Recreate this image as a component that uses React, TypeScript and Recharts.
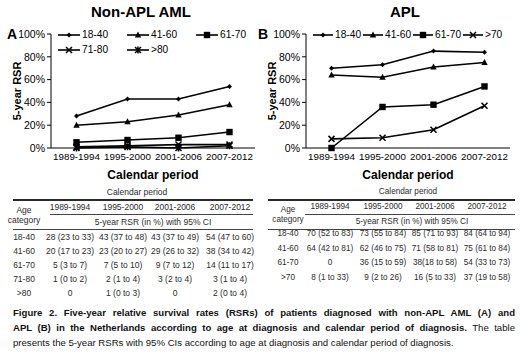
import { LineChart, Line, XAxis, YAxis, Legend } from 'recharts';

const FONT = '"Liberation Sans", Arial, sans-serif';

const periods = ['1989-1994', '1995-2000', '2001-2006', '2007-2012'];

// Non-APL AML, 5-year RSR (%)
const aml18to40 = [28, 43, 43, 54];
const aml41to60 = [20, 23, 29, 38];
const aml61to70 = [5, 7, 9, 14];
const aml71to80 = [1, 2, 3, 3];
const amlOver80 = [0, 1, 0, 2];

// APL, 5-year RSR (%)
const apl18to40 = [70, 73, 85, 84];
const apl41to60 = [64, 62, 71, 75];
const apl61to70 = [0, 36, 38, 54];
const aplOver70 = [8, 9, 16, 37];

const yTicks = [0, 20, 40, 60, 80, 100];

const amlRows = [
  ['18-40', '28 (23 to 33)', '43 (37 to 48)', '43 (37 to 49)', '54 (47 to 60)'],
  ['41-60', '20 (17 to 23)', '23 (20 to 27)', '29 (26 to 32)', '38 (34 to 42)'],
  ['61-70', '5 (3 to 7)', '7 (5 to 10)', '9 (7 to 12)', '14 (11 to 17)'],
  ['71-80', '1 (0 to 2)', '2 (1 to 4)', '3 (2 to 4)', '3 (1 to 4)'],
  ['>80', '0', '1 (0 to 3)', '0', '2 (0 to 4)'],
];

const aplRows = [
  ['18-40', '70 (52 to 83)', '73 (55 to 84)', '85 (71 to 93)', '84 (64 to 94)'],
  ['41-60', '64 (42 to 81)', '62 (46 to 75)', '71 (58 to 81)', '75 (61 to 84)'],
  ['61-70', '0', '36 (15 to 59)', '38(18 to 58)', '54 (33 to 73)'],
  ['>70', '8 (1 to 33)', '9 (2 to 26)', '16 (5 to 33)', '37 (19 to 58)'],
];

type Marker = 'diamond' | 'triangle' | 'square' | 'cross' | 'star';

interface Series {
  key: string;
  name: string;
  values: number[];
  marker: Marker;
}

const amlSeries: Series[] = [
  { key: 'a1', name: '18-40', values: aml18to40, marker: 'diamond' },
  { key: 'a2', name: '41-60', values: aml41to60, marker: 'triangle' },
  { key: 'a3', name: '61-70', values: aml61to70, marker: 'square' },
  { key: 'a4', name: '71-80', values: aml71to80, marker: 'cross' },
  { key: 'a5', name: '>80', values: amlOver80, marker: 'star' },
];

const aplSeries: Series[] = [
  { key: 'b1', name: '18-40', values: apl18to40, marker: 'diamond' },
  { key: 'b2', name: '41-60', values: apl41to60, marker: 'triangle' },
  { key: 'b3', name: '61-70', values: apl61to70, marker: 'square' },
  { key: 'b4', name: '>70', values: aplOver70, marker: 'cross' },
];

function drawMarker(kind: Marker, cx: number, cy: number, key?: string) {
  switch (kind) {
    case 'diamond':
      return <polygon key={key} points={`${cx},${cy - 2.5} ${cx + 2.5},${cy} ${cx},${cy + 2.5} ${cx - 2.5},${cy}`} fill="#000" />;
    case 'triangle':
      return <polygon key={key} points={`${cx},${cy - 3.5} ${cx + 3.2},${cy + 2.5} ${cx - 3.2},${cy + 2.5}`} fill="#000" />;
    case 'square':
      return <rect key={key} x={cx - 3.2} y={cy - 3.2} width={6.4} height={6.4} fill="#000" />;
    case 'cross':
      return (
        <path key={key} d={`M${cx - 3},${cy - 3}L${cx + 3},${cy + 3}M${cx - 3},${cy + 3}L${cx + 3},${cy - 3}`} stroke="#000" strokeWidth={1.5} />
      );
    default:
      return (
        <path
          key={key}
          d={`M${cx - 3},${cy - 3}L${cx + 3},${cy + 3}M${cx - 3},${cy + 3}L${cx + 3},${cy - 3}M${cx},${cy - 3.5}L${cx},${cy + 3.5}`}
          stroke="#000"
          strokeWidth={1.5}
        />
      );
  }
}

function RsrChart({
  series,
  left,
  width,
  title,
  titleX,
  letter,
  letterX,
  legendItemWidth,
  legendWidth,
  legendLine,
}: {
  series: Series[];
  left: number;
  width: number;
  title: string;
  titleX: number;
  letter: string;
  letterX: number;
  legendItemWidth: number;
  legendWidth: number;
  legendLine: number;
}) {
  const data = periods.map((p, i) => {
    const row: Record<string, string | number> = { period: p };
    series.forEach((s) => {
      row[s.key] = s.values[i];
    });
    return row;
  });

  return (
    <div style={{ position: 'absolute', left, top: 0, width, height: 195 }}>
      <div
        style={{
          position: 'absolute',
          left: titleX,
          top: 3,
          transform: 'translateX(-50%)',
          fontFamily: FONT,
          fontWeight: 'bold',
          fontSize: 15,
          whiteSpace: 'nowrap',
        }}
      >
        {title}
      </div>
      <div style={{ position: 'absolute', left: letterX, top: 26, fontFamily: FONT, fontWeight: 'bold', fontSize: 14 }}>
        {letter}
      </div>
      <LineChart width={width} height={195} data={data} margin={{ top: 34, right: width - 255, left: 0, bottom: 5 }}>
        <XAxis
          dataKey="period"
          height={42}
          padding={{ left: 25.5, right: 25.5 }}
          axisLine={{ stroke: '#000', strokeWidth: 1 }}
          tickLine={false}
          tickSize={3}
          tick={{ fill: '#000', fontSize: 9.8, fontFamily: FONT }}
          label={{
            value: 'Calendar period',
            position: 'insideBottom',
            offset: 11,
            fill: '#000',
            fontSize: 12,
            fontWeight: 'bold',
            fontFamily: FONT,
          }}
        />
        <YAxis
          width={51}
          domain={[0, 100]}
          ticks={yTicks}
          interval={0}
          tickFormatter={(v: number) => `${v}%`}
          axisLine={{ stroke: '#000', strokeWidth: 1 }}
          tickLine={{ stroke: '#000' }}
          tickSize={4}
          tick={{ fill: '#000', fontSize: 10.5, fontFamily: FONT }}
          label={{
            content: () => (
              <text
                x={17}
                y={91}
                transform="rotate(-90 17 91)"
                textAnchor="middle"
                dominantBaseline="central"
                fontFamily={FONT}
                fontWeight="bold"
                fontSize={11}
                fill="#000"
              >
                5-year RSR
              </text>
            ),
          }}
        />
        <Legend
          layout="horizontal"
          verticalAlign="middle"
          wrapperStyle={{ top: 27, left: 58, width: legendWidth }}
          content={() => (
            <div style={{ display: 'flex', flexWrap: 'wrap', width: legendWidth }}>
              {series.map((s) => (
                <div
                  key={s.key}
                  style={{
                    width: legendItemWidth,
                    height: 15,
                    display: 'flex',
                    alignItems: 'center',
                    fontFamily: FONT,
                    fontSize: 10.2,
                    whiteSpace: 'nowrap',
                  }}
                >
                  <svg width={legendLine} height={10} style={{ flex: 'none' }}>
                    <line x1={0} y1={5} x2={legendLine} y2={5} stroke="#000" strokeWidth={1.6} />
                    {drawMarker(s.marker, legendLine / 2, 5)}
                  </svg>
                  <span style={{ marginLeft: 2 }}>{s.name}</span>
                </div>
              ))}
            </div>
          )}
        />
        {series.map((s) => (
          <Line
            key={s.key}
            dataKey={s.key}
            name={s.name}
            type="linear"
            stroke="#000"
            strokeWidth={1.6}
            isAnimationActive={false}
            dot={(p: any) => drawMarker(s.marker, p.cx, p.cy, `${s.key}-${p.index}`)}
            activeDot={false}
          />
        ))}
      </LineChart>
    </div>
  );
}

function RsrTable({
  rows,
  left,
  colX,
  headX,
  rowTop,
  rowStep,
  ruleEnd,
  fontSize,
}: {
  rows: string[][];
  left: number;
  colX: number[];
  headX: number[];
  rowTop: number;
  rowStep: number;
  ruleEnd: number;
  fontSize: number;
}) {
  const cell = (text: string, x: number, y: number, key: string) => (
    <div
      key={key}
      style={{
        position: 'absolute',
        left: x,
        top: y,
        lineHeight: '8px',
        transform: 'translate(-50%, -50%)',
        whiteSpace: 'nowrap',
      }}
    >
      {text}
    </div>
  );
  return (
    <div style={{ position: 'absolute', left, top: 0, width: 262, height: 300, fontFamily: FONT, fontSize, color: '#2a2a2a' }}>
      {cell('Calendar period', headX[0], 192, 'cp')}
      <div style={{ position: 'absolute', left: 13, top: 199, width: ruleEnd - 13, height: 1.6, background: '#2a2a2a' }} />
      {cell('Age', colX[0], 210, 'age')}
      {cell('category', colX[0], 219.5, 'cat')}
      {periods.map((p, i) => cell(p, colX[i + 1], 207, `h${i}`))}
      <div style={{ position: 'absolute', left: 50, top: 214, width: ruleEnd - 50, height: 1, background: '#444' }} />
      {cell('5-year RSR (in %) with 95% CI', headX[1], 222, 'rsr')}
      <div style={{ position: 'absolute', left: 13, top: 229, width: ruleEnd - 13, height: 1, background: '#444' }} />
      {rows.map((r, ri) => r.map((t, ci) => cell(t, colX[ci], rowTop + ri * rowStep, `r${ri}c${ci}`)))}
    </div>
  );
}

export default function App() {
  return (
    <div style={{ position: 'absolute', left: 0, top: 0, width: 520, height: 355, background: '#fff', overflow: 'hidden' }}>
      <RsrChart
        series={amlSeries}
        left={0}
        width={260}
        title="Non-APL AML"
        titleX={141}
        letter="A"
        letterX={7}
        legendItemWidth={69}
        legendWidth={210}
        legendLine={22}
      />
      <RsrChart
        series={aplSeries}
        left={255}
        width={265}
        title="APL"
        titleX={150}
        letter="B"
        letterX={3}
        legendItemWidth={50}
        legendWidth={205}
        legendLine={20}
      />
      <RsrTable
        rows={amlRows}
        left={0}
        colX={[24, 70, 123, 175, 230]}
        headX={[137, 153]}
        rowTop={237}
        rowStep={14}
        ruleEnd={253}
        fontSize={8.5}
      />
      <RsrTable
        rows={aplRows}
        left={255}
        colX={[33, 75, 128, 180, 232]}
        headX={[153, 157]}
        rowTop={234}
        rowStep={14.7}
        ruleEnd={260}
        fontSize={8.2}
      />
      <div style={{ position: 'absolute', left: 13, top: 305, width: 502, fontFamily: FONT, fontSize: 9.6, lineHeight: '15px', color: '#111' }}>
        <div style={{ whiteSpace: 'nowrap', textAlign: 'justify', textAlignLast: 'justify', fontWeight: 'bold' }}>
          Figure 2. Five-year relative survival rates (RSRs) of patients diagnosed with non-APL AML (A) and
        </div>
        <div style={{ whiteSpace: 'nowrap', textAlign: 'justify', textAlignLast: 'justify' }}>
          <b>APL (B) in the Netherlands according to age at diagnosis and calendar period of diagnosis.</b> The table
        </div>
        <div style={{ whiteSpace: 'nowrap' }}>
          presents the 5-year RSRs with 95% CIs according to age at diagnosis and calendar period of diagnosis.
        </div>
      </div>
    </div>
  );
}
